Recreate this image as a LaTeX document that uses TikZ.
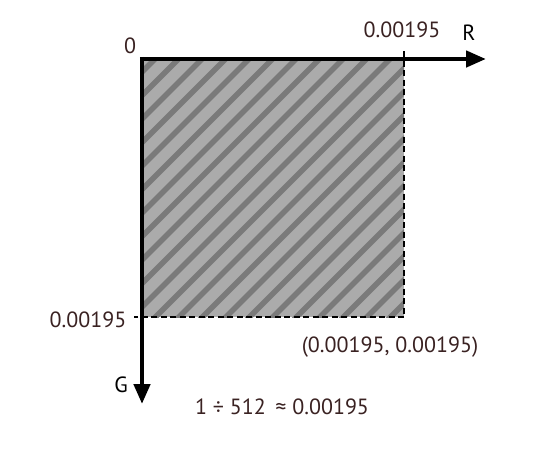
\documentclass[tikz,border=0pt]{standalone}
\usepackage{fontspec}
\setmainfont{PT Sans}
\usetikzlibrary{arrows.meta}
\definecolor{txt}{HTML}{3A2222}
\definecolor{fillgray}{HTML}{ABABAB}
\definecolor{stripegray}{HTML}{7A7A7A}
\begin{document}
\begin{tikzpicture}[x=1pt,y=-1pt,
  axis/.style={line width=4.5pt,-{Triangle[length=20pt,width=16pt]}},
  guide/.style={line width=2pt,dash pattern=on 6pt off 3.5pt},
  lbl/.style={font=\fontsize{22}{24}\selectfont,text=txt,inner sep=0pt},
  axlbl/.style={font=\fontsize{22}{24}\selectfont,text=black,inner sep=0pt}]
\useasboundingbox (0,0) rectangle (558,459);
\fill[white] (0,0) rectangle (558,459);
% hatched square
\begin{scope}
\clip (144,61) rectangle (404,317);
\fill[fillgray] (144,61) rectangle (404,317);
\foreach \c in {214,237.5,...,740}{
  \draw[stripegray,line width=5.5pt] (\c-61+100,-100+61) -- (\c-317-100,317+100);
}
\end{scope}
\coordinate (O) at (142,59);
\coordinate (Rend) at (486,59);
\coordinate (Gend) at (142,404);
\coordinate (Rt) at (404,51);
\coordinate (C) at (404,317);
\coordinate (Gt) at (134,317);
\draw[guide] (Rt) -- (C) -- (Gt);
\draw[axis] (139.75,59) -- (Rend);
\draw[axis] (142,56.75) -- (Gend);
\node[lbl] (zero) at (130,46) {0};
\node[lbl] (rv) at (402,30) {0.00195};
\node[axlbl] (R) at (469,33) {R};
\node[lbl] (gv) at (88,320) {0.00195};
\node[lbl] (cv) at (390,347) {(0.00195, 0.00195)};
\node[axlbl] (G) at (121,385) {G};
\node[lbl] (eq) at (282,407) {1 ÷ 512 \,≈ 0.00195};
\end{tikzpicture}
\end{document}
